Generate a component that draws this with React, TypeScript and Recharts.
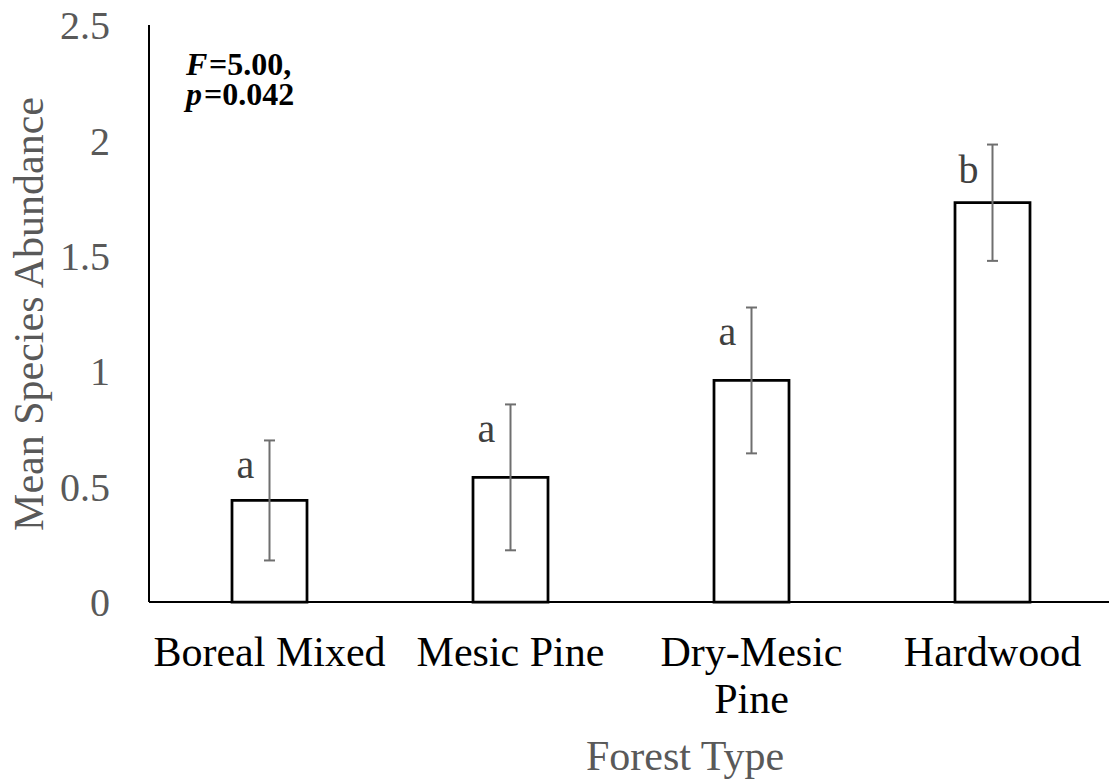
import React from 'react';
import { BarChart, Bar, XAxis, YAxis, ErrorBar, LabelList, Label, Customized } from 'recharts';

// Mean species abundance by forest type, with standard errors and Tukey group letters
const forestTypes = ['Boreal Mixed', 'Mesic Pine', 'Dry-Mesic Pine', 'Hardwood'];
const meanAbundance = [0.44, 0.54, 0.96, 1.73];
const standardError = [0.26, 0.316, 0.316, 0.252];
const groupLetters = ['a', 'a', 'a', 'b'];
const yTicks = [0, 0.5, 1, 1.5, 2, 2.5];

const data = forestTypes.map((name, i) => ({
  name,
  mean: meanAbundance[i],
  se: standardError[i],
  letter: groupLetters[i],
}));

const FONT = "'Times New Roman', 'Liberation Serif', serif";
const GREY_TEXT = '#595959';
const TICK_FONT_SIZE = 42;
const TICK_WRAP_WIDTH = 236;

// Greedy word wrap measured with a canvas context
let measureCtx: CanvasRenderingContext2D | null = null;
function wrapWords(label: string, maxWidth: number, font: string): string[] {
  if (!measureCtx) measureCtx = document.createElement('canvas').getContext('2d');
  const ctx = measureCtx!;
  ctx.font = font;
  const words = label.split(' ');
  const lines: string[] = [];
  let current = '';
  for (const w of words) {
    const trial = current ? `${current} ${w}` : w;
    if (current && ctx.measureText(trial).width > maxWidth) {
      lines.push(current);
      current = w;
    } else {
      current = trial;
    }
  }
  if (current) lines.push(current);
  return lines;
}

const CategoryTick = (props: any) => {
  const { x, y, payload } = props;
  const lines = wrapWords(
    String(payload.value),
    TICK_WRAP_WIDTH,
    `${TICK_FONT_SIZE}px 'Liberation Serif', serif`
  );
  return (
    <text
      x={x}
      y={y}
      textAnchor="middle"
      fontSize={TICK_FONT_SIZE}
      fontFamily={FONT}
      fill="#000000"
    >
      {lines.map((line, i) => (
        <tspan key={i} x={x} dy={i === 0 ? '0.71em' : 47}>
          {line}
        </tspan>
      ))}
    </text>
  );
};

const LetterLabel = (props: any) => {
  const vb = props.viewBox ?? props;
  const x = props.x ?? vb.x;
  const y = props.y ?? vb.y;
  const width = props.width ?? vb.width;
  const height = props.height ?? vb.height;
  const index = props.index;
  const pxPerUnit = height / meanAbundance[index];
  const errTop = y - standardError[index] * pxPerUnit;
  return (
    <text
      x={x + width / 2 - 24}
      y={errTop + 38}
      textAnchor="middle"
      fontSize={40}
      fontFamily={FONT}
      fill="#404040"
    >
      {props.value}
    </text>
  );
};

const StatsNote = () => (
  <g fontSize={32} fontWeight="bold" fontFamily={FONT} fill="#000000">
    <text x={186} y={75} fontStyle="italic">F</text>
    <text x={209} y={75}>=5.00,</text>
    <text x={186} y={105} fontStyle="italic">p</text>
    <text x={204} y={105}>=0.042</text>
  </g>
);

export default function App() {
  return (
    <div
      style={{
        position: 'absolute',
        left: 0,
        top: 0,
        width: 1109,
        height: 784,
        overflow: 'hidden',
        background: '#ffffff',
      }}
    >
      <BarChart
        width={1113}
        height={784}
        data={data}
        margin={{ top: 25, right: 0, bottom: 0, left: 0 }}
      >
        <XAxis
          dataKey="name"
          height={182}
          tickLine={false}
          tickSize={0}
          tickMargin={34}
          interval={0}
          axisLine={{ stroke: '#000000', strokeWidth: 2 }}
          tick={<CategoryTick />}
        >
          <Label
            content={() => (
              <text
                x={685}
                y={770}
                textAnchor="middle"
                fontSize={42}
                fontFamily={FONT}
                fill={GREY_TEXT}
              >
                Forest Type
              </text>
            )}
          />
        </XAxis>
        <YAxis
          width={149}
          domain={[0, 2.5]}
          ticks={yTicks}
          tickLine={false}
          tickSize={0}
          tickMargin={39}
          axisLine={{ stroke: '#000000', strokeWidth: 2 }}
          tick={{ fontSize: 40, fontFamily: FONT, fill: GREY_TEXT }}
        >
          <Label
            content={() => (
              <text
                x={43}
                y={314}
                transform="rotate(-90 43 314)"
                textAnchor="middle"
                fontSize={42}
                fontFamily={FONT}
                fill={GREY_TEXT}
              >
                Mean Species Abundance
              </text>
            )}
          />
        </YAxis>
        <Bar
          dataKey="mean"
          barSize={75}
          fill="#ffffff"
          stroke="#000000"
          strokeWidth={2.75}
          isAnimationActive={false}
        >
          <ErrorBar
            dataKey="se"
            width={5.5}
            stroke="#6f6f6f"
            strokeWidth={2}
            direction="y"
            isAnimationActive={false}
          />
          <LabelList dataKey="letter" content={<LetterLabel />} />
        </Bar>
        <Customized component={StatsNote} />
      </BarChart>
    </div>
  );
}
